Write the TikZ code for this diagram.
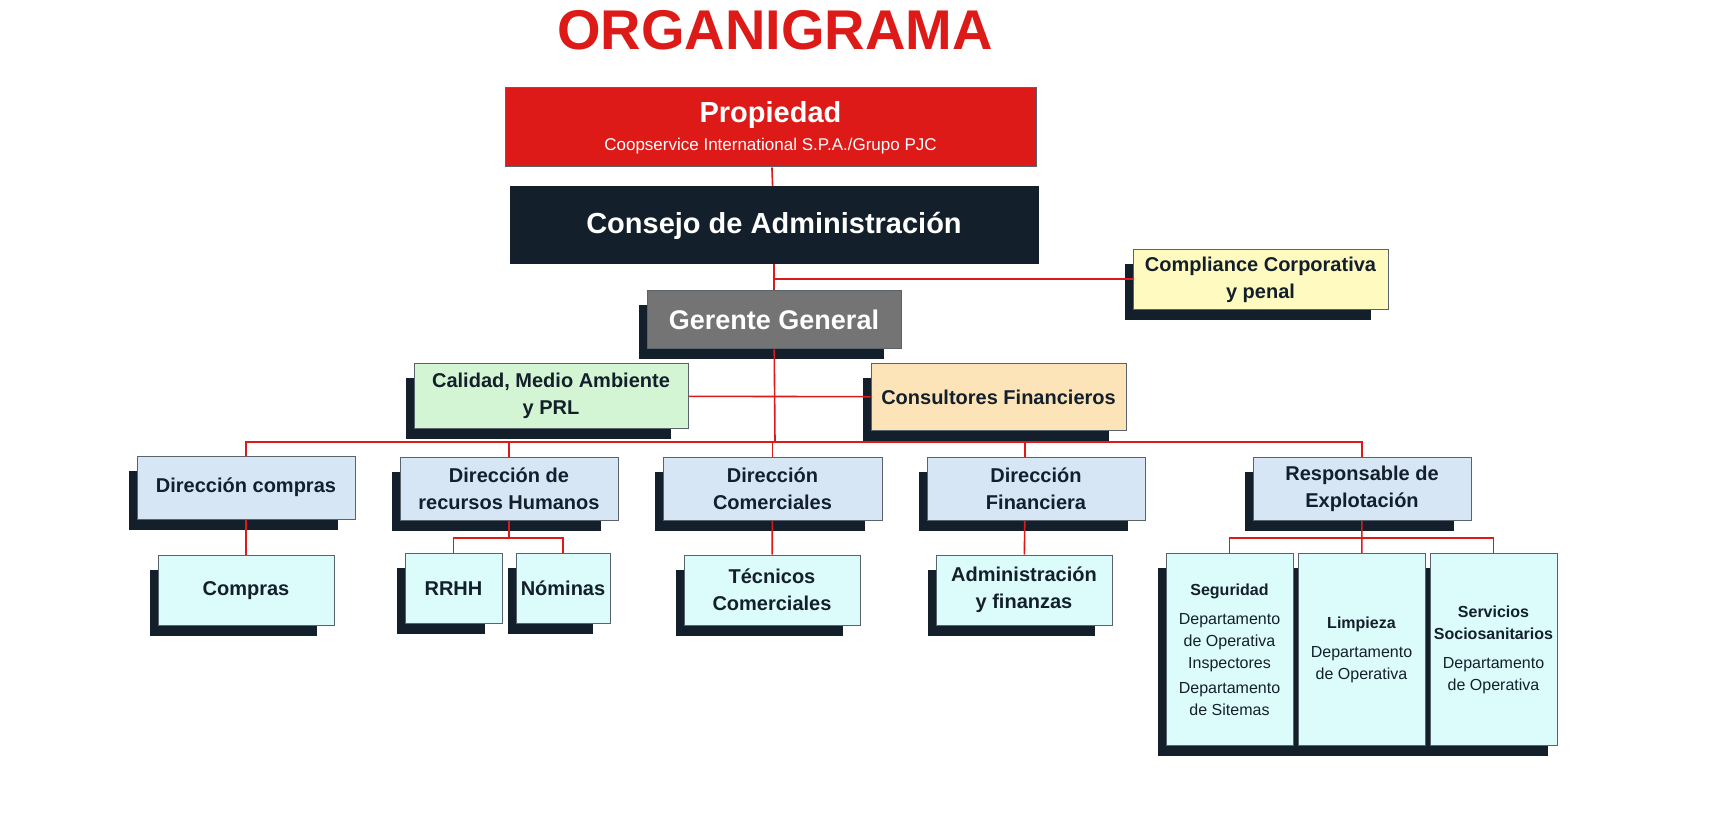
\documentclass[tikz,border=0pt]{standalone}
\usepackage{fontspec}
\setmainfont{Liberation Sans}
\usetikzlibrary{backgrounds}
\definecolor{orgred}{HTML}{DD1A17}
\definecolor{orgdark}{HTML}{13202B}
\definecolor{orggray}{HTML}{747474}
\definecolor{orgyellow}{HTML}{FFFBC0}
\definecolor{orggreen}{HTML}{D4F5D4}
\definecolor{orgpeach}{HTML}{FDE3B8}
\definecolor{orgblue}{HTML}{D6E6F5}
\definecolor{orgcyan}{HTML}{DCFBFB}
\tikzset{
  org/.style={
    x=1pt, y=-1pt,
    every node/.style={inner sep=2pt, align=center, text=orgdark,
      font=\bfseries\fontsize{20}{27}\selectfont},
    box/.style={draw=orgdark!70, line width=1pt, minimum width=##1},
    head/.style={box=##1, fill=orgblue, minimum height=63pt},
    leaf/.style={box=##1, fill=orgcyan, minimum height=70pt},
    unit/.style={box=127pt, fill=orgcyan, minimum height=192pt, anchor=north,
      font=\fontsize{16}{25}\selectfont},
    link/.style={orgred, line width=1.6pt},
  }
}
\newcommand{\dropsh}[1]{%
  \begin{scope}[on background layer]
    \fill[orgdark] ([shift={(-8,15)}]#1.north west) rectangle ([shift={(-18,10)}]#1.south east);
  \end{scope}%
}

\begin{document}
\begin{tikzpicture}[org]
  \node[text=orgred, font=\bfseries\fontsize{56}{60}\selectfont] (title) at (775,30) {ORGANIGRAMA};

  \node[box=531pt, fill=orgred, minimum height=79pt, text=white, font=\bfseries\fontsize{29}{34}\selectfont] (prop) at (770.5,127.5)
    {Propiedad\\[-6pt]{\mdseries\fontsize{17}{20}\selectfont Coopservice International S.P.A./Grupo PJC}};
  \node[box=528pt, fill=orgdark, draw=orgdark, minimum height=77pt, text=white, font=\bfseries\fontsize{29}{34}\selectfont] (consejo) at (774,225.5) {Consejo de Administración};
  \node[box=255pt, fill=orgyellow, minimum height=60pt] (comp) at (1260.5,280) {Compliance Corporativa\\y penal};
  \node[box=254pt, fill=orggray, minimum height=58pt, text=white, font=\bfseries\fontsize{27}{32}\selectfont] (gerente) at (774,320) {Gerente General};
  \node[box=274pt, fill=orggreen, minimum height=64pt] (calidad) at (551,396) {Calidad, Medio Ambiente\\y PRL};
  \node[box=255pt, fill=orgpeach, minimum height=66pt] (consult) at (998.5,397) {Consultores Financieros};

  % direcciones
  \node[head=218pt] (dcompras) at (246,487.5) {Dirección compras};
  \node[head=218pt] (drrhh) at (509,488.5) {Dirección de\\recursos Humanos};
  \node[head=219pt] (dcom) at (772.5,488.5) {Dirección\\Comerciales};
  \node[head=218pt] (dfin) at (1036,488.5) {Dirección\\Financiera};
  \node[head=218pt] (dexp) at (1362,488.5) {Responsable de\\Explotación};

  % areas
  \node[leaf=176pt] (compras) at (246,590.5) {Compras};
  \node[leaf=97pt] (rrhh) at (453.5,588.5) {RRHH};
  \node[leaf=94pt] (nominas) at (563,588.5) {Nóminas};
  \node[leaf=176pt] (tecnicos) at (772,590) {Técnicos\\Comerciales};
  \node[leaf=176pt] (admin) at (1024,590) {Administración\\y finanzas};
  \node[unit] (seg) at (1229.5,553) {\textbf{Seguridad}\\[4pt]Departamento\\[-3pt]de Operativa\\[-3pt]Inspectores\\Departamento\\[-3pt]de Sitemas};
  \node[unit] (limp) at (1361.5,553) {\textbf{Limpieza}\\[4pt]Departamento\\[-3pt]de Operativa};
  \node[unit] (serv) at (1493.5,553) {\textbf{Servicios}\\[-3pt]\textbf{Sociosanitarios}\\[4pt]Departamento\\[-3pt]de Operativa};

  \foreach \n in {comp,gerente,calidad,consult,dcompras,drrhh,dcom,dfin,dexp,compras,rrhh,nominas,tecnicos,admin}
    {\dropsh{\n}}
  \begin{scope}[on background layer]
    \fill[orgdark] ([shift={(-8,15)}]seg.north west) rectangle ([shift={(-10,10)}]serv.south east);
  \end{scope}

  % conexiones
  \coordinate (bar) at (775,442);
  \begin{scope}[on background layer]
    \draw[link] (prop) -- (consejo);
    \draw[link] (consejo) -- (gerente);
    \draw[link] (775,279) -- (comp.west |- 775,279);
    \draw[link] (gerente) -- (bar);
    \draw[link] (calidad) -- (consult);
    \draw[link] (dcompras) |- (bar) -| (dexp);
    \draw[link] (drrhh) -- (drrhh |- bar);
    \draw[link] (dcom) -- (dcom |- bar);
    \draw[link] (1025,500) -- (1025,442);
    \draw[link] (dcompras) -- (compras);
    \draw[link] (drrhh) -- (509,538) -| (rrhh);
    \draw[link] (509,538) -| (nominas);
    \draw[link] (dcom) -- (tecnicos);
    \draw[link] (1025,500) -- (admin);
    \draw[link] (dexp) -- (limp);
    \draw[link] (seg) |- (1361.5,538) -| (serv);
  \end{scope}
  \pgfresetboundingbox
  \useasboundingbox (0,0) rectangle (1717,834);
\end{tikzpicture}
\end{document}
